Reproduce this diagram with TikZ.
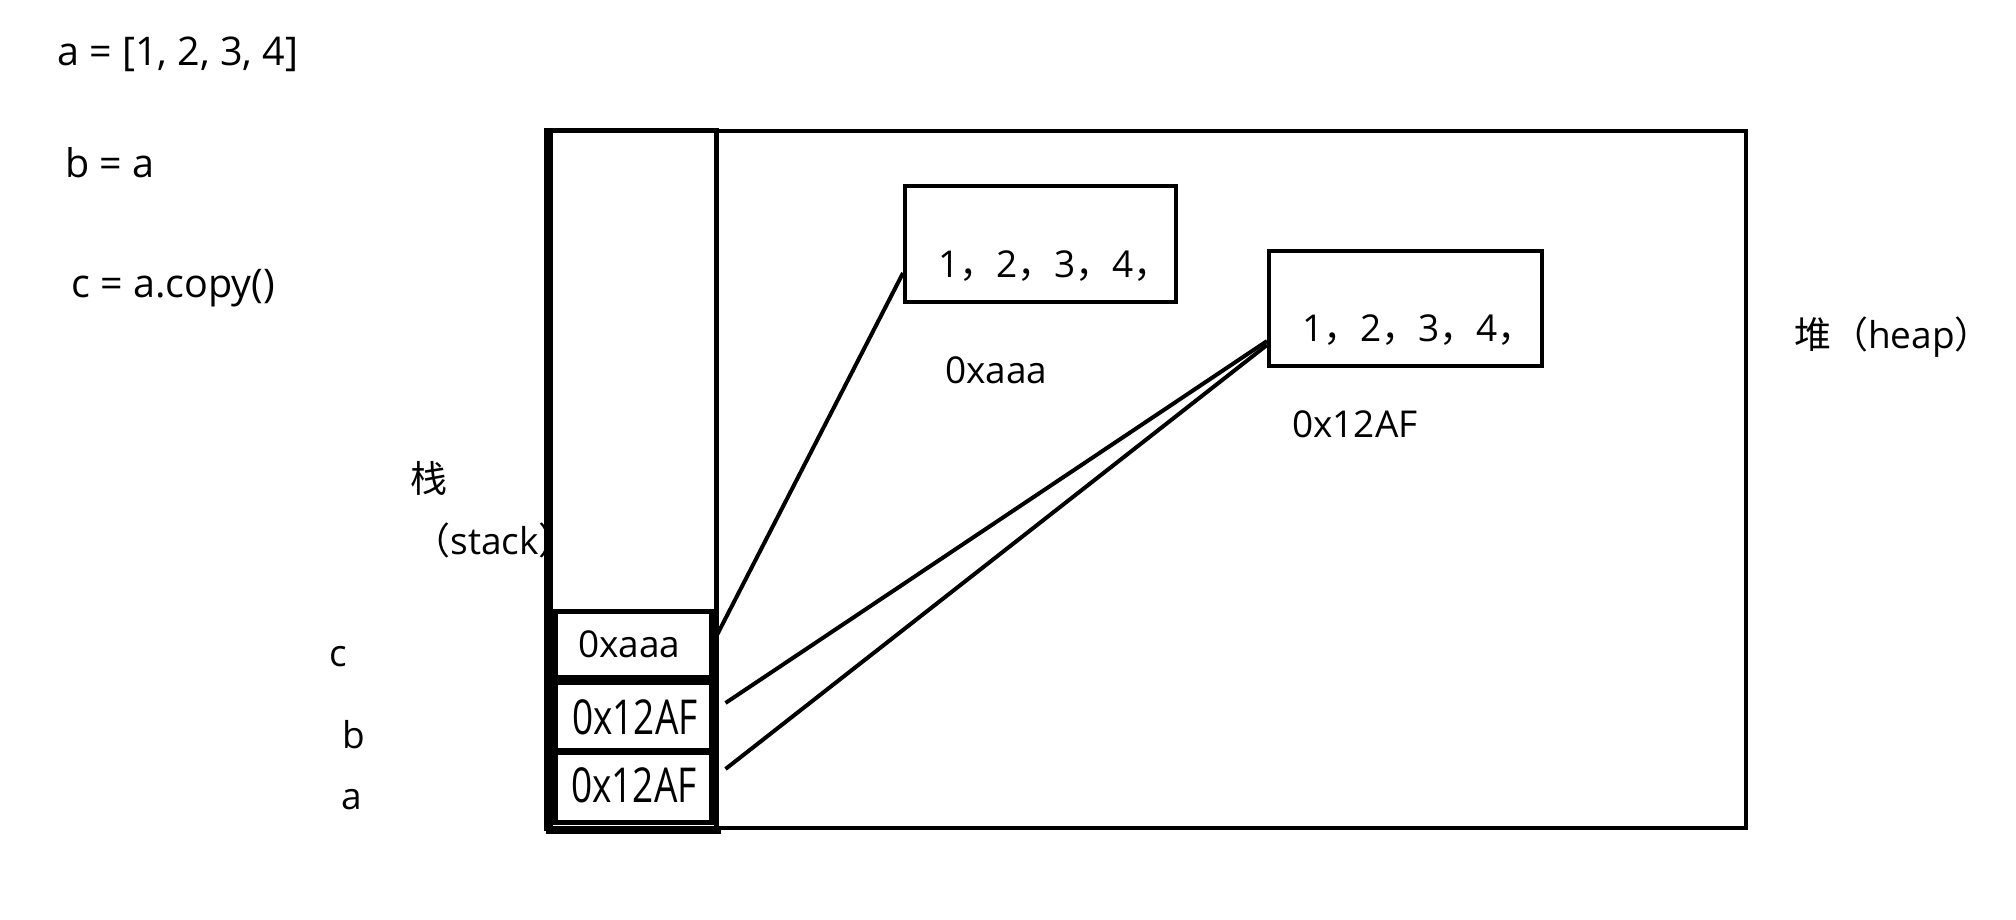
\documentclass[tikz,border=0pt]{standalone}
\usepackage{fontspec}
\setmainfont{Open Sans}
\newfontfamily\cjk{Noto Sans CJK SC}
\newcommand{\fc}{{\cjk ，}}
\begin{document}
\begin{tikzpicture}[x=1pt,y=-1pt,
  txt/.style={inner sep=0pt, font=\fontsize{37}{44}\selectfont},
  code/.style={inner sep=0pt, font=\fontsize{39.5}{46}\selectfont},
  cell/.style={draw, line width=5pt, inner sep=0pt},
  memb/.style={draw, line width=4pt, inner sep=0pt},
  link/.style={line width=4pt}]
\useasboundingbox (0,0) rectangle (2016,920);
% code
\node[code, anchor=west] (la) at (57,54) {a = [1, 2, 3, 4]};
\node[code, anchor=west] (lb) at (65,163) {b = a};
\node[code, anchor=west] (lc) at (71,288) {c = a.copy()};
% heap and stack
\node[memb, minimum width=1196pt, minimum height=697pt] (heap) at (1148,479.5) {};
\node[draw, line width=5pt, minimum width=166pt, minimum height=697pt, inner sep=0pt] (stack) at (633,479.5) {};
\draw[line width=8pt] (stack.north west) -- (stack.south west);
\draw[line width=7pt] ([xshift=-2pt]stack.south west) -- ([xshift=2pt]stack.south east);
% cells
\node[cell, minimum width=156pt, minimum height=66pt] (cellc) at (633,644.5) {};
\node[cell, minimum width=156pt, minimum height=68pt] (cellb) at (633,716) {};
\node[cell, minimum width=156pt, minimum height=70pt] (cella) at (633,787) {};
\node[txt, anchor=west] (tc) at (578,644) {0xaaa};
\begin{scope}
\clip (560,684) rectangle (698,820);
\node[txt, anchor=west] (tb) at (572,717) {\scalebox{1}[1.3]{0x12AF}};
\node[txt, anchor=west] (ta) at (571,785) {\scalebox{1}[1.3]{0x12AF}};
\end{scope}
% heap objects
\node[memb, minimum width=271pt, minimum height=116pt] (box1) at (1040.5,244) {};
\node[txt, anchor=west] (t1) at (938,266) {1\fc2\fc3\fc4\fc};
\node[memb, minimum width=273pt, minimum height=115pt] (box2) at (1405.5,308.5) {};
\node[txt, anchor=west] (t2) at (1302,330) {1\fc2\fc3\fc4\fc};
\node[txt, anchor=west] (ad1) at (945,370) {0xaaa};
\node[txt, anchor=west] (ad2) at (1292,424) {0x12AF};
% labels
\node[txt, anchor=west] (heapl) at (1794,337) {{\cjk 堆（}heap{\cjk ）}};
\node[txt, anchor=west] (stk1) at (410,478) {{\cjk 栈}};
\node[txt, anchor=east] (stk2) at (576,540) {{\cjk （}stack{\cjk ）}};
\node[txt] (vc) at (338,657) {c};
\node[txt] (vb) at (354,735) {b};
\node[txt] (va) at (352,800) {a};
% references
\draw[link] ([xshift=4pt,yshift=10.5pt]cellc.east) -- ([yshift=-29pt]box1.west);
\draw[link] ([xshift=12pt,yshift=13pt]cellb.east) -- ([yshift=-32.5pt]box2.west);
\draw[link] ([xshift=12pt,yshift=18pt]cella.east) -- ([yshift=-36.5pt]box2.west);
\end{tikzpicture}
\end{document}
